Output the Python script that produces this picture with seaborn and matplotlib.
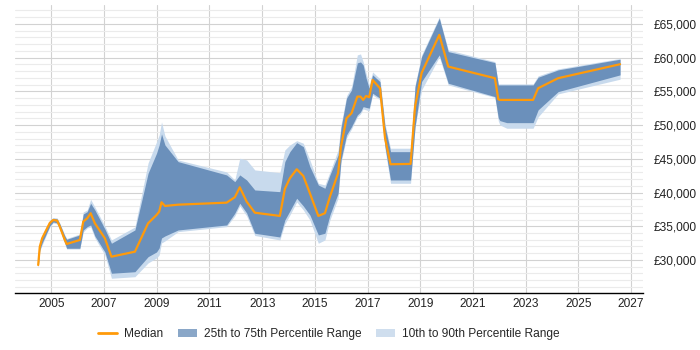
import matplotlib
matplotlib.use("Agg")
import matplotlib.pyplot as plt
import matplotlib.ticker as mticker
from matplotlib.lines import Line2D
from matplotlib.patches import Patch
import pandas as pd
import seaborn as sns

# Values (decimal years, salary in GBP)
years = [2004.50, 2004.56, 2004.65, 2004.94, 2005.07, 2005.22, 2005.32, 2005.51, 2005.58,
         2006.08, 2006.21, 2006.36, 2006.49, 2006.65, 2007.03, 2007.28, 2008.17, 2008.67,
         2008.99, 2009.09, 2009.18, 2009.31, 2009.81, 2011.65, 2011.96, 2012.15, 2012.41,
         2012.72, 2013.67, 2013.86, 2014.05, 2014.31, 2014.56, 2014.81, 2015.13, 2015.38,
         2015.57, 2015.88, 2015.99, 2016.20, 2016.39, 2016.61, 2016.73, 2016.83, 2016.94,
         2017.06, 2017.19, 2017.47, 2017.66, 2017.87, 2018.63, 2018.80, 2019.05, 2019.72,
         2020.06, 2021.83, 2021.96, 2022.02, 2022.28, 2023.28, 2023.47, 2024.23, 2026.58]

median = [29260, 31970, 33220, 35490, 35930, 35830, 34940, 32970, 32370,
          32970, 35680, 36180, 36930, 35440, 33220, 30490, 31230, 35440,
          36670, 37160, 38560, 38010, 38200, 38500, 39300, 40780, 38650,
          37010, 36530, 40530, 42120, 43450, 42460, 39890, 36530, 36930,
          39390, 42860, 46800, 51010, 51760, 54220, 54220, 53730, 54320,
          54130, 56690, 55460, 48090, 44190, 44240, 52730, 57730, 63370,
          58670, 56950, 53830, 53730, 53730, 53730, 55460, 56950, 59020]

p25 = [28960, 31480, 32520, 35040, 35640, 35490, 34600, 32520, 31740,
       31740, 34450, 34940, 35190, 33560, 31190, 28030, 28260, 30490,
       31190, 31780, 33260, 33560, 34450, 35190, 36930, 38410, 36970,
       33960, 33410, 35930, 37270, 39150, 38010, 36670, 33710, 33960,
       36670, 39890, 44830, 48540, 49770, 51500, 51950, 52730, 52620,
       52500, 54720, 53980, 46800, 41860, 41860, 49770, 56460, 60400,
       56200, 54220, 51060, 50660, 50360, 50360, 52250, 54960, 57440]

p75 = [29700, 32370, 33460, 35780, 36180, 36080, 35340, 33560, 33070,
       33710, 36820, 37160, 38410, 37420, 34600, 32480, 34450, 42860,
       45820, 47050, 48690, 47050, 44580, 42610, 41610, 42610, 41860,
       40380, 40130, 44580, 46060, 47400, 46800, 43840, 41120, 40630,
       42610, 45570, 49580, 53980, 55210, 59220, 59360, 58920, 56990,
       55460, 57440, 56440, 49770, 46060, 46060, 55700, 60150, 65840,
       60890, 59260, 55950, 55950, 55950, 55950, 57090, 58180, 59760]

p10 = [28810, 31330, 32220, 34890, 35490, 35340, 34450, 32370, 31630,
       31630, 34150, 34750, 34890, 33260, 30740, 27290, 27520, 29560,
       30300, 30740, 32520, 32820, 34200, 34940, 36530, 38010, 36530,
       33630, 32970, 35340, 36670, 38600, 37420, 35930, 32480, 32970,
       35930, 39190, 44390, 48090, 49430, 51210, 51650, 52390, 52250,
       52100, 54470, 53730, 46460, 41370, 41370, 49580, 55210, 60100,
       55950, 54100, 50610, 50020, 49530, 49530, 51210, 54620, 56800]

p90 = [29850, 32520, 33710, 35930, 36300, 36230, 35490, 33710, 33190,
       33860, 37120, 37420, 39000, 37860, 35040, 32970, 34890, 44390,
       47500, 48540, 50470, 48390, 44830, 43050, 41860, 45080, 44830,
       43350, 42950, 46310, 47050, 47690, 47310, 44830, 41370, 41120,
       43050, 46310, 50020, 54320, 55660, 60400, 60550, 59410, 57730,
       55950, 57880, 56840, 50170, 46570, 46570, 55950, 60400, 66040,
       61140, 59410, 56100, 56100, 56100, 56100, 57290, 58330, 59880]

year_ticks = list(range(2005, 2028, 2))
salary_ticks = list(range(30000, 65001, 5000))

df = pd.DataFrame({"year": years, "median": median, "p25": p25, "p75": p75,
                   "p10": p10, "p90": p90})

sns.set_style("white")
plt.rcParams['font.family'] = ['Liberation Sans', 'DejaVu Sans']

light_blue = "#c8daed"
dark_blue = "#6b90bb"
orange = "#ff9a0a"

fig = plt.figure(figsize=(7, 3.5), dpi=100)
ax = fig.add_axes([15 / 700, (350 - 292.7) / 350, 628 / 700, 287.7 / 350])

# percentile bands
ax.fill_between(df["year"], df["p10"], df["p90"], color=light_blue, linewidth=0, zorder=2)
ax.fill_between(df["year"], df["p25"], df["p75"], color=dark_blue, linewidth=0, zorder=3)

# median line
sns.lineplot(data=df, x="year", y="median", color=orange, linewidth=1.6, ax=ax, zorder=4)

ax.set_xlim(2003.62, 2027.45)
ax.set_ylim(25150, 67800)
ax.set_xticks(year_ticks)
ax.set_xticklabels([str(y) for y in year_ticks])
ax.set_yticks(salary_ticks)
ax.yaxis.set_major_formatter(mticker.FuncFormatter(lambda v, p: f"£{int(v):,}"))
ax.yaxis.set_minor_locator(mticker.MultipleLocator(1000))

ax.yaxis.tick_right()
ax.tick_params(axis="y", which="both", length=0, pad=8, labelsize=8.6, colors="#222222")
ax.tick_params(axis="x", length=0, pad=4, labelsize=8.6, colors="#222222")

ax.grid(axis="y", which="major", color="#d2d2d2", linewidth=0.8, zorder=0)
ax.grid(axis="y", which="minor", color="#ebebeb", linewidth=0.8, zorder=0)
ax.grid(axis="x", which="major", color="#d2d2d2", linewidth=0.8, zorder=0)
ax.set_axisbelow(True)

for side in ["top", "left", "right"]:
    ax.spines[side].set_visible(False)
ax.spines["bottom"].set_color("black")
ax.spines["bottom"].set_linewidth(1.0)

ax.set_xlabel("")
ax.set_ylabel("")

handles = [
    Line2D([0], [0], color=orange, linewidth=2),
    Patch(facecolor="#8aa7c8", edgecolor="none"),
    Patch(facecolor="#cfdeee", edgecolor="none"),
]
labels = ["Median", "25th to 75th Percentile Range", "10th to 90th Percentile Range"]
fig.legend(handles, labels, loc="center", bbox_to_anchor=(0.47, 0.046), ncol=3,
           frameon=False, fontsize=8.6, handlelength=1.6, handletextpad=0.6,
           columnspacing=1.2)

fig.savefig("out.png", dpi=100)
